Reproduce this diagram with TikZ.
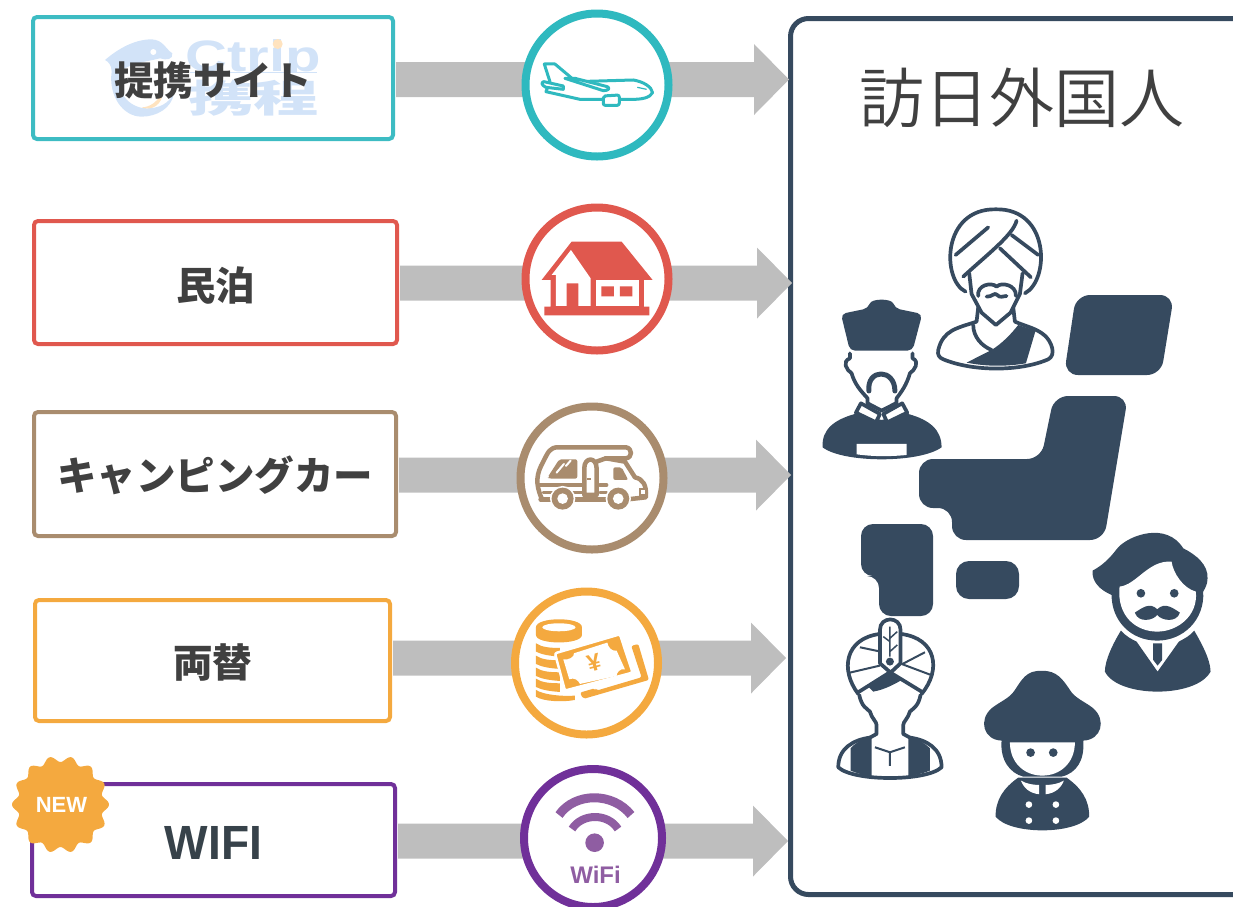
\documentclass[tikz,border=0pt]{standalone}
\usepackage{fontspec}
\usetikzlibrary{calc}
\setmainfont{Liberation Sans}
\newfontfamily\jp{Noto Sans CJK JP Black}
\newfontfamily\jpb{Noto Sans CJK JP}
\newfontfamily\jplight{Noto Sans CJK JP DemiLight}
\definecolor{teal1}{HTML}{3DBCC3}
\definecolor{teal2}{HTML}{2FB9BF}
\definecolor{red1}{HTML}{E0584E}
\definecolor{brown1}{HTML}{A98C6E}
\definecolor{orange1}{HTML}{F4A93F}
\definecolor{purple1}{HTML}{703099}
\definecolor{purple2}{HTML}{8F5DA2}
\definecolor{navy}{HTML}{364A5F}
\definecolor{grayarrow}{HTML}{BEBEBE}
\definecolor{logoblue}{HTML}{D2E3F8}
\definecolor{logoorange}{HTML}{FFE3BF}
\definecolor{labeltext}{HTML}{404040}
\definecolor{wifitext}{HTML}{37424A}
\tikzset{
 labelbox/.style={draw=#1,line width=4pt,rounded corners=4pt,inner sep=0pt,outer sep=0pt,text=labeltext,font=\jp\fontsize{39.5}{41}\selectfont},
 iconring/.style={circle,draw=#1,line width=8pt,fill=white,minimum size=143pt,inner sep=0pt,outer sep=0pt},
 zA/.style={x=.3333pt,y=-.3333pt,shift={(1500,0)}},
 zT/.style={x=.3333pt,y=-.3333pt,shift={(1500,1170)}},
 zP/.style={x=.3333pt,y=-.3333pt,shift={(2400,570)}},
 zQ/.style={x=.3333pt,y=-.3333pt,shift={(2460,1530)}},
 zL/.style={x=.3333pt,y=-.3333pt},
 navyline/.style={draw=navy,line width=3.7pt,line join=round,line cap=round},
}
\newcommand{\lowered}[2]{\raisebox{-#1pt}[0pt][0pt]{#2}}
\newcommand{\blockarrow}[2]{%
 \fill[grayarrow] ($(#1.east |- #2)+(3,-17.5)$) -- ($(#2)+(-35,-17.5)$) -- ($(#2)+(-35,-35.5)$) -- (#2)
   -- ($(#2)+(-35,35.5)$) -- ($(#2)+(-35,17.5)$) -- ($(#1.east |- #2)+(3,17.5)$) -- cycle;}
\begin{document}
\begin{tikzpicture}[x=1pt,y=-1pt]
\useasboundingbox (0,0) rectangle (1233,906);
\clip (0,0) rectangle (1233,906);
% logo
\begin{scope}[zL]
 \fill[logoblue] (315,180) .. controls (350,150) and (400,118) .. (455,118) .. controls (490,120) and (495,145) .. (517,160) .. controls (520,178) and (500,182) .. (480,175) .. controls (440,185) and (390,190) .. (360,215) .. controls (345,290) and (400,325) .. (440,325) .. controls (480,325) and (505,310) .. (522,280) .. controls (515,325) and (470,350) .. (425,350) .. controls (370,350) and (325,290) .. (335,215) .. controls (335,195) and (325,185) .. (315,180) -- cycle;
 \fill[logoorange] (425,322) .. controls (450,322) and (475,305) .. (490,270) .. controls (490,300) and (470,330) .. (435,325) -- cycle;
 \fill[white] (460,156) circle (9);
\end{scope}
\node[text=logoblue,font=\bfseries\fontsize{44}{44}\selectfont,xscale=1.32,anchor=base] (logoc) at (253,71.5) {Ctrip};
\fill[white] (185,73) rectangle (322,81);
\draw[logoblue,line width=1pt] (190,72) -- (317,72);
\node[text=logoblue,font=\jpb\bfseries\fontsize{38}{38}\selectfont,xscale=1.72] (logot) at (253.5,98) {携程};
\fill[logoorange] (277.7,44) circle (5);
% boxes
\node[labelbox=teal1,minimum width=360pt,minimum height=122pt] (b1) at (213,78) {\lowered{17}{提携サイト}};
\node[labelbox=red1,minimum width=363pt,minimum height=123pt] (b2) at (215.5,282.5) {\lowered{17.5}{民泊}};
\node[labelbox=brown1,minimum width=362pt,minimum height=124pt] (b3) at (215,474) {\lowered{16.5}{キャンピングカー}};
\node[labelbox=orange1,minimum width=355pt,minimum height=121pt] (b4) at (212.5,660.5) {\lowered{16.5}{両替}};
\node[labelbox=purple1,minimum width=363pt,minimum height=112pt,text=wifitext,font=\bfseries\fontsize{48}{48}\selectfont] (b5) at (213.5,840) {\lowered{19.5}{\scalebox{.96}[1]{WIFI}}};
% panel
\node[draw=navy,line width=5pt,rounded corners=18pt,minimum width=510pt,minimum height=876pt,inner sep=0pt,outer sep=0pt] (panel) at (1045.5,456.5) {};
\node[text=labeltext,font=\jplight\fontsize{65}{66}\selectfont] (title) at (1021.5,98) {訪日外国人};
% arrows
\coordinate (t1) at (789,79.5);
\coordinate (t2) at (792,283);
\coordinate (t3) at (791,475);
\coordinate (t4) at (786,658);
\coordinate (t5) at (788,841);
\blockarrow{b1}{t1}
\blockarrow{b2}{t2}
\blockarrow{b3}{t3}
\blockarrow{b4}{t4}
\blockarrow{b5}{t5}
% circles
\node[iconring=teal2] (c1) at (597,85) {};
\node[iconring=red1] (c2) at (597,279) {};
\node[iconring=brown1] (c3) at (592,478) {};
\node[iconring=orange1] (c4) at (586.5,663) {};
\node[iconring=purple1,minimum size=138pt] (c5) at (593,838) {};
% plane
\begin{scope}[zA,draw=teal2,line width=3pt,line join=round]
 \draw[fill=white] (133,192) -- (165,192) -- (228,245) -- (400,240) .. controls (430,245) and (455,260) .. (458,278) .. controls (450,295) and (420,298) .. (400,298) -- (240,298) -- (138,275) -- (150,245) -- cycle;
 \draw[fill=white] (132,245) -- (190,258) -- (190,268) -- (138,262) .. controls (122,255) and (125,245) .. (132,245) -- cycle;
 \draw[fill=white] (225,235) -- (322,260) .. controls (332,265) and (325,272) .. (310,272) -- (195,235) -- cycle;
 \draw[fill=white,rounded corners=2pt] (310,288) -- (358,285) -- (358,316) -- (310,316) -- cycle;
 \draw[line width=1.2pt] (412,262) -- (440,268);
\end{scope}
% house
\begin{scope}[zA]
 \fill[red1] (215,725) -- (365,725) -- (458,840) -- (432,840) -- (432,920) -- (448,920) -- (448,946) -- (133,946) -- (133,920) -- (152,920) -- (152,840) -- (125,840) -- cycle;
 \fill[white] (213,750) -- (272,835) -- (272,918) -- (235,918) -- (235,850) -- (200,850) -- (200,918) -- (168,918) -- (168,825) -- (155,825) -- cycle;
 \fill[white] (287,840) -- (417,840) -- (417,918) -- (287,918) -- cycle;
 \fill[red1] (304,859) rectangle (342,889) (360,859) rectangle (397,889);
\end{scope}
% camper
\begin{scope}[zT,brown1,line width=4.5pt,line join=round,line cap=round]
 \draw (125,325) .. controls (105,280) and (110,250) .. (130,215) .. controls (145,185) and (150,172) .. (175,172) -- (378,172) .. controls (398,175) and (398,203) .. (378,205) -- (318,205);
 \draw (318,205) -- (375,215) -- (405,262) .. controls (430,268) and (440,285) .. (438,322) -- (385,328);
 \draw (290,215) -- (318,205);
 \fill[rounded corners=2pt] (143,262) -- (178,208) -- (232,208) -- (232,266) -- (148,266) -- cycle;
 \draw[white,line width=2pt] (170,248) -- (192,222) (198,228) -- (212,212);
 \draw[fill=white] (253,315) -- (253,235) .. controls (253,200) and (290,200) .. (290,235) -- (290,315) -- cycle;
 \fill (262,263) rectangle (272,270);
 \fill[rounded corners=2pt] (340,232) -- (365,232) -- (385,270) -- (340,270) -- cycle;
 \draw[line width=3.5pt] (118,285) -- (245,285) (130,307) -- (245,307) (300,285) -- (320,285) (300,307) -- (320,307);
 \draw (122,328) -- (385,328);
 \fill[white] (188,326) circle (38) (355,326) circle (38);
 \fill (188,326) circle (33) (355,326) circle (33);
 \fill[white] (188,326) circle (16) (355,326) circle (16);
 \fill (418,295) rectangle (440,318);
 \fill[white] (423,300) rectangle (436,312);
\end{scope}
% coins and notes
\begin{scope}[zT,orange1]
 \fill (108,712) .. controls (108,680) and (246,680) .. (246,712) -- (246,735) .. controls (246,765) and (108,765) .. (108,735) -- cycle;
 \fill[white] (177,712) ellipse (50 and 12);
 \foreach \yy in {760,797,833,866} {\fill (108,\yy) .. controls (125,\yy+12) and (150,\yy+14) .. (180,\yy+14) -- (180,\yy+40) .. controls (150,\yy+38) and (125,\yy+34) .. (108,\yy+25) -- cycle;}
 \fill (108,900) .. controls (130,915) and (190,920) .. (225,917) -- (225,930) .. controls (190,937) and (130,935) .. (108,920) -- cycle;
 \fill[rounded corners=2pt] (394,768) -- (415,762) -- (447,870) -- (250,927) -- (240,908) -- (285,895) -- (290,902) -- (425,862) -- cycle;
 \filldraw[draw=white,line width=2.5pt,rounded corners=2pt] (165,790) -- (360,733) -- (398,848) -- (195,902) -- cycle;
 \fill[white] (190,808) .. controls (205,812) and (225,800) .. (222,790) -- (322,758) .. controls (325,772) and (335,785) .. (350,782) -- (375,838) .. controls (360,835) and (350,848) .. (350,858) -- (240,882) .. controls (235,870) and (222,862) .. (208,868) -- cycle;
\end{scope}
\node[text=orange1,rotate=15,font=\bfseries\fontsize{24}{24}\selectfont] (yen) at (594,663) {¥};
% wifi
\draw[purple2,line width=9pt] (559,815) .. controls (575,792) and (613,792) .. (631,815);
\draw[purple2,line width=8pt] (572,829) .. controls (582,813) and (608,813) .. (618,829);
\fill[purple2] (594.6,842.7) circle (9.3);
\node[text=purple2,font=\bfseries\fontsize{24}{24}\selectfont] (wifilabel) at (595.5,875) {WiFi};
% new badge
\fill[orange1] plot[domain=0:360,samples=200,smooth] ({60.5+(45.5+3*cos(14*\x))*cos(\x)},{804.5+(45.5+3*cos(14*\x))*sin(\x)}) -- cycle;
\node[text=white,font=\bfseries\fontsize{22}{22}\selectfont] (newlabel) at (61.5,805) {NEW};
% japan
\fill[navy,rounded corners=14pt] (1076,295) -- (1174,295) -- (1161,375) -- (1064,375) -- cycle;
\fill[navy,rounded corners=14pt] (1054,396) -- (1128,396) -- (1104,540) -- (952,540) -- (952,508) -- (919,508) -- (919,459) -- (1041,459) -- cycle;
\fill[navy,rounded corners=12pt] (861,524) -- (933,524) -- (933,616) -- (879,616) -- (879,576) -- (861,576) -- cycle;
\fill[navy,rounded corners=13pt] (956,561) rectangle (1019,599);
% turban man
\begin{scope}[zP]
 \draw[navyline] (497,305) .. controls (425,270) and (425,55) .. (588,58) .. controls (750,55) and (750,270) .. (675,310);
 \draw[navyline] (650,92) .. controls (640,135) and (560,195) .. (490,260);
 \draw[navyline] (600,175) -- (693,262);
 \draw[navyline] (635,135) -- (715,195);
 \draw[navyline] (467,195) -- (565,112);
 \draw[navyline] (508,250) -- (515,312) -- (545,368) -- (588,405) -- (632,368) -- (660,312) -- (668,250);
 \draw[navyline] (535,318) .. controls (530,285) and (575,275) .. (590,290) .. controls (605,275) and (650,285) .. (648,318);
 \draw[navyline] (560,320) .. controls (575,322) and (585,305) .. (592,315) .. controls (600,325) and (610,318) .. (620,318);
 \draw[navyline] (535,352) -- (530,395) .. controls (470,415) and (430,420) .. (415,480) .. controls (412,495) and (418,503) .. (430,508) .. controls (520,545) and (660,545) .. (745,508) .. controls (770,495) and (755,455) .. (735,437) .. controls (710,415) and (680,410) .. (645,395) -- (640,352);
 \fill[navy] (655,405) -- (707,422) -- (678,520) .. controls (620,530) and (560,530) .. (500,518) -- (575,480) .. controls (610,458) and (635,430) .. (655,405) -- cycle;
 \draw[navyline] (520,405) .. controls (520,440) and (545,468) .. (575,480);
\end{scope}
% chinese man
\begin{scope}[zP]
 \fill[navy,rounded corners=5pt] (123,372) -- (205,355) .. controls (215,325) and (275,325) .. (285,355) -- (367,372) -- (338,482) -- (150,482) -- cycle;
 \draw[navyline] (150,490) -- (150,505) .. controls (125,515) and (140,540) .. (155,550) .. controls (165,585) and (185,605) .. (203,625) -- (203,645) (338,490) -- (338,505) .. controls (360,515) and (345,540) .. (330,550) .. controls (320,585) and (305,605) .. (290,625) -- (290,645);
 \draw[navyline,line width=5pt] (207,603) .. controls (200,535) and (285,535) .. (285,603);
 \fill[navy] (165,672) .. controls (100,690) and (65,720) .. (68,772) .. controls (130,820) and (360,820) .. (425,772) .. controls (425,720) and (390,690) .. (325,672) -- (245,690) -- cycle;
 \draw[navyline,fill=white] (183,640) -- (240,672) -- (228,697) -- (168,668) -- cycle;
 \draw[navyline,fill=white] (307,640) -- (250,672) -- (262,697) -- (322,668) -- cycle;
 \draw[navyline] (203,640) -- (245,662) -- (288,640);
 \fill[white] (170,762) -- (320,762) -- (320,795) .. controls (270,800) and (220,800) .. (170,793) -- cycle;
\end{scope}
% moustache man
\begin{scope}[zQ]
 \fill[navy] (818,182) .. controls (860,160) and (880,130) .. (895,112) .. controls (930,75) and (1040,35) .. (1090,115) .. controls (1130,135) and (1165,165) .. (1163,205) .. controls (1163,225) and (1155,235) .. (1150,245) .. controls (1155,330) and (1090,392) .. (1012,392) .. controls (930,392) and (875,330) .. (875,255) .. controls (840,240) and (815,215) .. (818,182) -- cycle;
 \fill[white] (899,230) .. controls (950,225) and (985,150) .. (1055,155) .. controls (1060,190) and (1090,235) .. (1128,245) .. controls (1135,320) and (1070,365) .. (1012,365) .. controls (950,365) and (890,320) .. (899,230) -- cycle;
 \fill[navy] (963,250) circle (13) (1063,250) circle (13);
 \fill[navy] (1012,298) .. controls (990,275) and (965,295) .. (945,308) .. controls (955,340) and (1000,332) .. (1012,315) .. controls (1025,332) and (1070,340) .. (1080,308) .. controls (1060,295) and (1035,275) .. (1012,298) -- cycle;
 \fill[navy] (903,362) .. controls (920,380) and (935,388) .. (950,395) -- (1013,485) -- (1077,395) .. controls (1095,385) and (1110,378) .. (1123,362) .. controls (1145,400) and (1172,450) .. (1172,485) .. controls (1130,565) and (895,565) .. (855,485) .. controls (855,450) and (880,400) .. (903,362) -- cycle;
 \fill[navy] (1000,400) -- (1027,400) -- (1027,450) -- (1013,467) -- (1000,450) -- cycle;
\end{scope}
% hat man
\begin{scope}[zQ]
 \fill[navy] (665,483) .. controls (620,480) and (605,510) .. (585,540) .. controls (570,565) and (540,575) .. (515,595) .. controls (475,630) and (490,690) .. (545,692) .. controls (540,750) and (570,790) .. (610,800) -- (725,800) .. controls (770,790) and (795,750) .. (790,692) .. controls (845,690) and (860,630) .. (820,595) .. controls (795,575) and (765,565) .. (750,540) .. controls (730,510) and (710,480) .. (665,483) -- cycle;
 \fill[white] (570,697) -- (765,697) .. controls (765,760) and (720,797) .. (667,797) .. controls (615,797) and (570,760) .. (570,697) -- cycle;
 \fill[navy] (632,728) circle (13) (700,728) circle (13);
 \fill[navy] (595,803) .. controls (550,835) and (527,870) .. (527,920) .. controls (570,975) and (765,975) .. (808,920) .. controls (808,870) and (785,835) .. (740,803) -- cycle;
 \fill[white] (603,812) .. controls (620,822) and (640,825) .. (658,825) -- (658,853) .. controls (630,850) and (612,835) .. (603,812) -- cycle;
 \fill[white] (732,812) .. controls (715,822) and (695,825) .. (677,825) -- (677,853) .. controls (705,850) and (723,835) .. (732,812) -- cycle;
 \fill[white] (627,884) circle (10) (708,884) circle (10) (627,932) circle (10) (708,932) circle (10);
\end{scope}
% feather turban man
\begin{scope}[zQ]
 \draw[navyline] (115,552) .. controls (60,480) and (75,385) .. (180,372) (243,372) .. controls (350,385) and (365,480) .. (305,552);
 \draw[navy,line width=2pt] (120,412) -- (182,425) (90,488) -- (180,467) (315,427) -- (248,462) (333,495) -- (245,462);
 \draw[navyline] (118,545) -- (210,487) -- (305,545);
 \draw[navyline,fill=white] (180,460) -- (180,360) .. controls (180,318) and (242,318) .. (242,360) -- (242,460) -- (212,488) -- cycle;
 \draw[navy,line width=1.5pt] (210,350) -- (210,440) (210,385) -- (232,365) (210,425) -- (232,405) (210,395) -- (190,380);
 \fill[navy] (210,455) circle (12);
 \fill[navy] (160,545) .. controls (190,540) and (220,525) .. (242,512) -- (212,490) -- (145,530) -- cycle;
 \draw[navyline] (118,555) .. controls (125,590) and (140,595) .. (150,605) .. controls (155,625) and (170,635) .. (170,645) -- (170,672) -- (150,683) (302,555) .. controls (295,590) and (280,595) .. (270,605) .. controls (265,625) and (250,635) .. (250,645) -- (250,672) -- (270,683);
 \draw[navyline] (150,683) .. controls (100,690) and (55,715) .. (55,772) .. controls (100,815) and (320,815) .. (365,772) .. controls (365,715) and (320,690) .. (270,683);
 \fill[navy] (92,715) .. controls (110,695) and (130,688) .. (155,683) -- (155,800) .. controls (130,795) and (110,790) .. (92,782) -- cycle;
 \fill[navy] (265,683) .. controls (290,688) and (310,695) .. (330,715) -- (330,782) .. controls (310,790) and (290,795) .. (265,800) -- cycle;
 \draw[navy,line width=2pt] (165,712) -- (210,727) -- (255,712) (210,727) -- (210,768);
\end{scope}
\end{tikzpicture}
\end{document}
